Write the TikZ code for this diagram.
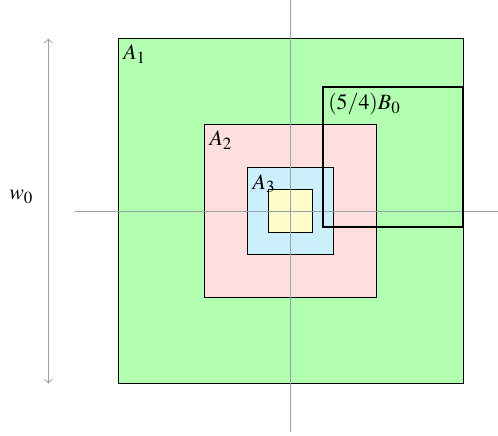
\documentclass[tikz,border=0pt]{standalone}
\usepackage{xcolor}
\usepackage{mathptmx}
\usepackage{tikz}

\definecolor{axisgray}{RGB}{150,163,168}
\tikzset{boxlabel/.style={anchor=north west,inner xsep=2pt,inner ysep=2.5pt,font=\small}}

\begin{document}
\begin{tikzpicture}

\useasboundingbox (-4.21,-3.246) rectangle (3.007,3.058);

% Carres emboites
\draw[fill=green!30] (-2.5,-2.5) rectangle (2.5,2.5); % A1
\draw[fill=red!13] (-1.25,-1.25) rectangle (1.25,1.25); % A2
\draw[fill=cyan!20] (-0.625,-0.625) rectangle (0.625,0.625); % A3
\draw[fill=yellow!20] (-0.3125,-0.3125) rectangle (0.3125,0.3125);

% Axes
\draw[axisgray] (0,3.058) -- (0,-3.2);
\draw[axisgray] (-3.12,0) -- (3.007,0);

% Carre B0 (trait epais)
\draw[thick] (0.47,-0.236) rectangle (2.5,1.8);

% Fleche de hauteur
\coordinate (wtop) at (-3.51,2.5);
\coordinate (wbot) at (-3.51,-2.5);
\draw[axisgray,<->] (wtop) -- (wbot);

% Etiquettes
\node[boxlabel] (lA1) at (-2.5,2.5) {$A_1$};
\node[boxlabel] (lA2) at (-1.25,1.25) {$A_2$};
\node[boxlabel] (lA3) at (-0.625,0.625) {$A_3$};
\node[boxlabel] (lB0) at (0.47,1.8) {$(5/4)B_0$};
\node[font=\small] (lw0) at (-3.9,0.2) {$w_0$};

\end{tikzpicture}
\end{document}
